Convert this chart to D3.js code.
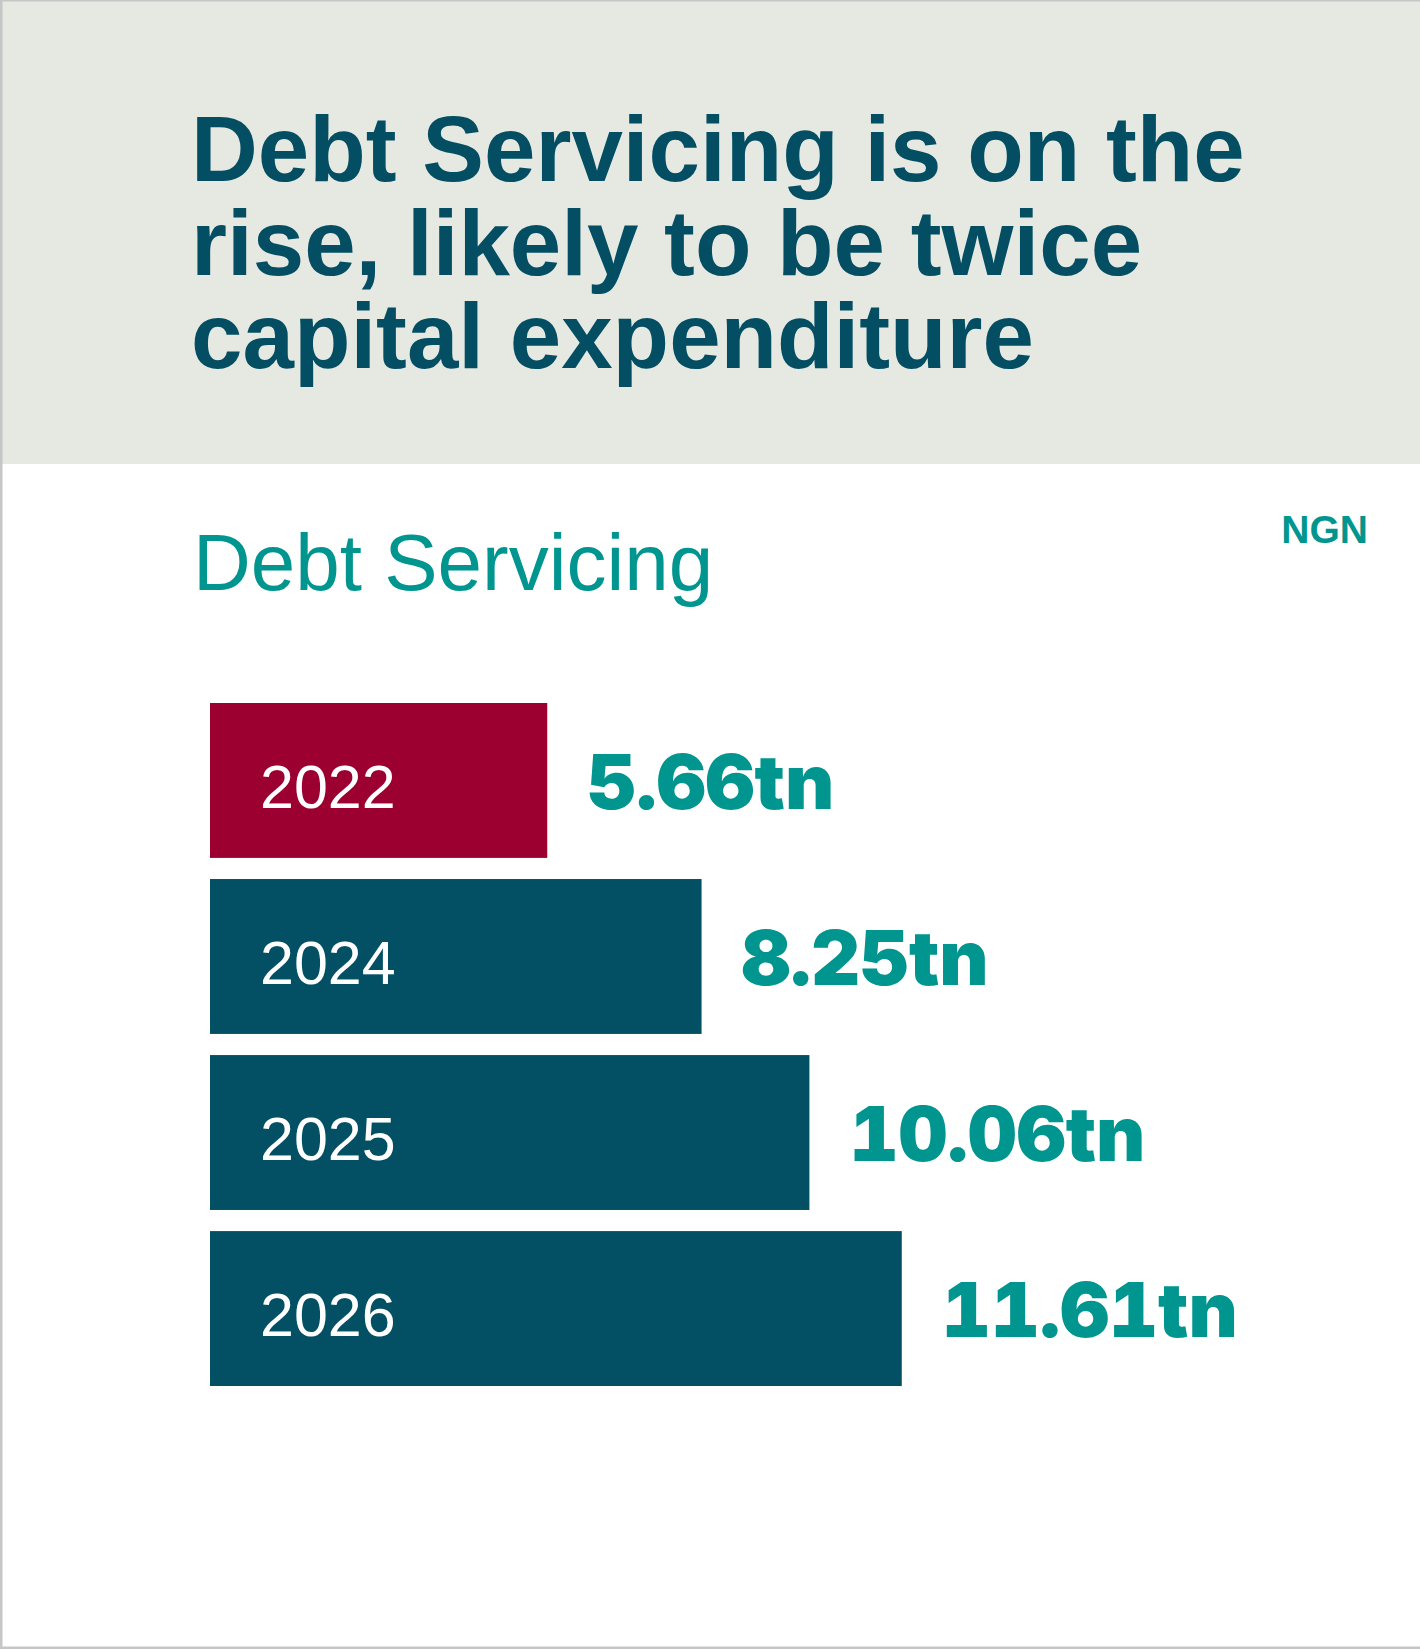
<!DOCTYPE html>
<html>
<head>
<meta charset="utf-8">
<script src="https://cdn.jsdelivr.net/npm/d3@7"></script>
<style>
  html, body { margin: 0; padding: 0; background: #ffffff; }
  svg { display: block; }
  .value { font-feature-settings: "tnum" 1; font-variant-numeric: tabular-nums; }
</style>
</head>
<body>
<div id="chart"></div>
<script>
// Debt servicing by year, NGN trillions
const years = ["2022", "2024", "2025", "2026"];
const values = [5.66, 8.25, 10.06, 11.61];
const highlightYears = ["2022"];
const titleLines = ["Debt Servicing is on the", "rise, likely to be twice", "capital expenditure"];
const subtitle = "Debt Servicing";
const unitLabel = "NGN";

const W = 1420, H = 1649;
const colors = {
  header: "#e6e9e1",
  title: "#034e63",
  bar: "#034f64",
  highlight: "#9b0030",
  teal: "#00968f",
  border: "#c6c6c6"
};

const svg = d3.select("#chart").append("svg")
  .attr("width", W).attr("height", H);

svg.append("rect").attr("x", 0).attr("y", 0).attr("width", W).attr("height", H).attr("fill", "#ffffff");

// header band
svg.append("rect").attr("x", 0).attr("y", 0).attr("width", W).attr("height", 464).attr("fill", colors.header);

// card outline (left, top, bottom edges)
svg.append("rect").attr("x", 0).attr("y", 0).attr("width", 2.5).attr("height", H).attr("fill", colors.border);
svg.append("rect").attr("x", 0).attr("y", 0).attr("width", W).attr("height", 1.5).attr("fill", colors.border);
svg.append("rect").attr("x", 0).attr("y", H - 2.5).attr("width", W).attr("height", 2.5).attr("fill", colors.border);

// headline, one text block with a tspan per line
const headline = svg.append("text")
  .attr("x", 191)
  .attr("y", 181)
  .attr("font-family", "'Liberation Sans', Arial, Helvetica, sans-serif")
  .attr("font-weight", 700)
  .attr("font-size", 92.5)
  .attr("fill", colors.title);
headline.selectAll("tspan").data(titleLines).join("tspan")
  .attr("x", 191)
  .attr("dy", (d, i) => i === 0 ? 0 : 93.5)
  .text(d => d);

// chart subtitle and unit
svg.append("text")
  .attr("x", 193).attr("y", 590)
  .attr("font-family", "'Liberation Sans', Arial, Helvetica, sans-serif")
  .attr("font-size", 80)
  .attr("fill", colors.teal)
  .text(subtitle);

svg.append("text")
  .attr("x", 1368).attr("y", 543)
  .attr("text-anchor", "end")
  .attr("font-family", "'Liberation Sans', Arial, Helvetica, sans-serif")
  .attr("font-weight", 700)
  .attr("font-size", 39)
  .attr("fill", colors.teal)
  .text(unitLabel);

// scales
const x = d3.scaleLinear().domain([0, 12]).range([210, 210 + 715]);
const y = d3.scaleBand().domain(years).range([703, 1386]).paddingInner(0.12).paddingOuter(0);

const rows = years.map((yr, i) => ({ year: yr, value: values[i] }));

const g = svg.append("g");

g.selectAll("rect.bar").data(rows).join("rect")
  .attr("class", "bar")
  .attr("x", x(0))
  .attr("y", d => y(d.year))
  .attr("width", d => x(d.value) - x(0))
  .attr("height", y.bandwidth())
  .attr("fill", d => highlightYears.includes(d.year) ? colors.highlight : colors.bar);

// year labels inside the bars
g.selectAll("text.year").data(rows).join("text")
  .attr("class", "year")
  .attr("x", x(0) + 50)
  .attr("y", d => y(d.year) + 105)
  .attr("font-family", "'Liberation Sans', Arial, Helvetica, sans-serif")
  .attr("font-size", 61)
  .attr("fill", "#ffffff")
  .text(d => d.year);

// value labels at the bar ends
g.selectAll("text.value").data(rows).join("text")
  .attr("class", "value")
  .attr("x", d => x(d.value) + 40)
  .attr("y", d => y(d.year) + 106)
  .attr("font-family", "Inter, 'Liberation Sans', Arial, sans-serif")
  .attr("font-weight", 900)
  .attr("font-size", 76)
  .attr("fill", colors.teal)
  .text(d => d3.format(".2f")(d.value) + "tn");
</script>
</body>
</html>
